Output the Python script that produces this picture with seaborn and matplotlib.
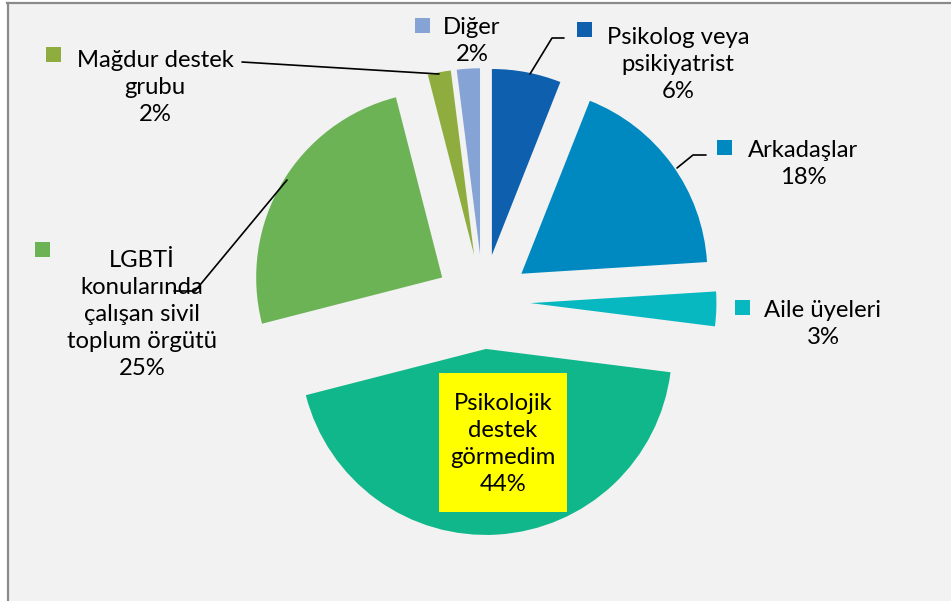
import matplotlib
matplotlib.use("Agg")
import matplotlib.pyplot as plt
from matplotlib.patches import Rectangle
import seaborn as sns

# slices, clockwise from 12 o'clock
categories = ["Psikolog veya\npsikiyatrist", "Arkadaşlar", "Aile üyeleri",
              "Psikolojik\ndestek\ngörmedim", "LGBTİ\nkonularında\nçalışan sivil\ntoplum örgütü",
              "Mağdur destek\ngrubu", "Diğer"]
shares = [6, 18, 3, 44, 25, 2, 2]
colors = ["#0e5fae", "#0089c0", "#08b8c0", "#10b78a", "#6cb356", "#8fad3f", "#86a3d6"]

# label placement in image pixels (center x, first line y, marker x, marker y)
label_pos = [(678, 32, 584, 29), (803, 148, 724, 147), (823, 308, 742, 307),
             (503, 396, None, None), (142, 250, 42, 249), (155, 55, 53, 54),
             (472, 25, 422, 25)]

H = 601
LINE = 32.3
R = 186

def py(y):
    return H - y

sns.set_theme(style="white")
plt.rcParams["font.family"] = ["Lato", "DejaVu Sans"]

fig = plt.figure(figsize=(9.51, 6.01), dpi=100, facecolor="white")
ax = fig.add_axes([7.5 / 951, 0, 1 - 7.5 / 951, 598 / 601])
ax.set_facecolor("#f2f2f2")

pal = sns.color_palette(colors)
# explode is in data units here (radius is in pixels)
ax.pie(shares, colors=pal, startangle=90, counterclock=False,
       explode=[0.255 * R] * len(shares), radius=R, center=(483, py(301.6)),
       wedgeprops=dict(linewidth=0), frame=True)
ax.set_xlim(7.5, 951)
ax.set_ylim(0, 598)
ax.set_aspect("auto")
ax.set_xticks([])
ax.set_yticks([])
for s in ["right", "bottom"]:
    ax.spines[s].set_visible(False)
for s in ["left", "top"]:
    ax.spines[s].set_color("#8a8a8a")
    ax.spines[s].set_linewidth(1.6)

fs = 17.2
for name, val, col, (tx, ty, mx, my) in zip(categories, shares, pal, label_pos):
    txt = "%s\n%d%%" % (name, val)
    n = txt.count("\n") + 1
    if mx is None:
        ax.add_patch(Rectangle((439, py(512)), 128, 139, facecolor="#ffff00",
                               edgecolor="none", zorder=3))
    else:
        ax.add_patch(Rectangle((mx - 7.5, py(my + 7.5)), 15, 15, facecolor=col,
                               edgecolor="none", zorder=3))
    ax.text(tx, py(ty + (n - 1) * LINE / 2), txt, ha="center", va="center",
            fontsize=fs, linespacing=LINE / (fs * 100 / 72), color="black", zorder=4)

# leader lines
lk = dict(color="black", lw=1.2, zorder=2)
ax.plot([242, 439], [py(62), py(74)], **lk)
ax.plot([174, 195, 287], [py(291), py(291), py(180)], **lk)
ax.plot([530, 552, 564], [py(74), py(38), py(38)], **lk)
ax.plot([677, 693, 706], [py(168), py(155), py(155)], **lk)

fig.savefig("out.png", dpi=100, facecolor="white")
